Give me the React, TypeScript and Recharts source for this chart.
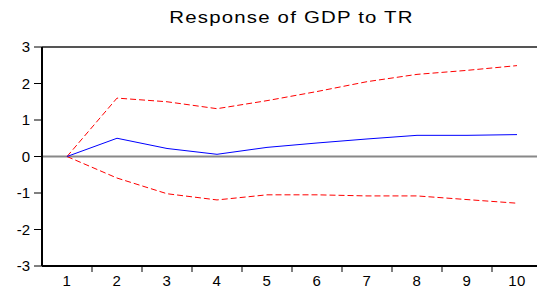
import { LineChart, Line, XAxis, YAxis, ReferenceLine } from 'recharts';

const periods = [1, 2, 3, 4, 5, 6, 7, 8, 9, 10];
const response = [0, 0.5, 0.22, 0.06, 0.25, 0.37, 0.48, 0.58, 0.58, 0.6];
const upperBand = [0, 1.6, 1.5, 1.31, 1.53, 1.78, 2.05, 2.25, 2.36, 2.49];
const lowerBand = [0, -0.59, -1.02, -1.19, -1.05, -1.05, -1.08, -1.08, -1.18, -1.28];
const yTicks = [-3, -2, -1, 0, 1, 2, 3];
const tickMarks = [1.5, 2.5, 3.5, 4.5, 5.5, 6.5, 7.5, 8.5, 9.5];

const data = periods.map((p, i) => ({
  period: p,
  response: response[i],
  upper: upperBand[i],
  lower: lowerBand[i],
}));

const font = 'Arial, "Liberation Sans", sans-serif';

// integer ticks get a label, half ticks get only the little mark between periods
function PeriodTick(props: any) {
  const { x, y, payload } = props;
  const v = payload.value;
  if (Number.isInteger(v)) {
    return (
      <text x={x} y={y + 20} textAnchor="middle" fill="#000" fontSize={15} fontFamily={font} letterSpacing={0.5}>
        {v}
      </text>
    );
  }
  return <line x1={x} x2={x} y1={y} y2={y + 6} stroke="#000" strokeWidth={1} />;
}

export default function App() {
  return (
    <div style={{ position: 'absolute', left: 0, top: 0, width: 537, height: 288, overflow: 'hidden', background: '#fff' }}>
      <div
        style={{
          position: 'absolute',
          top: 8,
          left: 0,
          width: 583,
          textAlign: 'center',
          fontFamily: font,
          fontSize: 17,
          letterSpacing: 1,
          transform: 'scaleX(1.2)',
          transformOrigin: '291.5px 0',
          color: '#000',
        }}
      >
        Response of GDP to TR
      </div>
      <LineChart width={545} height={288} data={data} margin={{ top: 47, right: 3, bottom: 0, left: 0 }}>
        <XAxis
          dataKey="period"
          type="number"
          domain={[0.5, 10.5]}
          ticks={[...periods, ...tickMarks].sort((a, b) => a - b)}
          height={22}
          tickSize={0}
          tickMargin={0}
          tickLine={false}
          axisLine={{ stroke: '#000', strokeWidth: 2 }}
          tick={<PeriodTick />}
          interval={0}
        />
        <YAxis
          domain={[-3, 3]}
          ticks={yTicks}
          width={42}
          tickSize={8}
          tickMargin={4}
          axisLine={{ stroke: '#000', strokeWidth: 2 }}
          tickLine={{ stroke: '#000' }}
          tick={{ fill: '#000', fontSize: 15, fontFamily: font }}
          interval={0}
        />
        <ReferenceLine y={3} stroke="#555" strokeWidth={2} />
        <ReferenceLine y={0} stroke="#888" strokeWidth={2} />
        <Line dataKey="upper" stroke="#ff0000" strokeWidth={1} strokeDasharray="6 3" dot={false} isAnimationActive={false} />
        <Line dataKey="lower" stroke="#ff0000" strokeWidth={1} strokeDasharray="6 3" dot={false} isAnimationActive={false} />
        <Line dataKey="response" stroke="#0000ff" strokeWidth={1} dot={false} isAnimationActive={false} />
      </LineChart>
    </div>
  );
}
